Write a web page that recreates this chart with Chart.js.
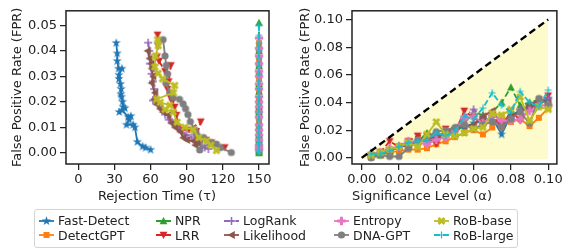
<!DOCTYPE html>
<html><head><meta charset="utf-8">
<script src="https://cdn.jsdelivr.net/npm/chart.js@4.4.0/dist/chart.umd.min.js"></script>
<style>
html,body{margin:0;padding:0;background:#fff;width:563px;height:249px;overflow:hidden;font-family:"DejaVu Sans",sans-serif;}
#c1{position:absolute;left:0;top:0;}
#c2{position:absolute;left:283px;top:0;}
.xt{position:absolute;top:188px;font-size:13px;color:#222;white-space:nowrap;transform:translateX(-50%);line-height:16px;}
#legend{position:absolute;left:34px;top:209px;width:484px;height:39px;border:1px solid #d4d4d4;border-radius:3px;box-sizing:border-box;}
.item{position:absolute;display:flex;align-items:center;font-size:12.5px;color:#222;white-space:nowrap;height:14px;}
.item canvas{margin-right:4px;}
</style></head>
<body>
<canvas id="c1" width="283" height="205"></canvas>
<canvas id="c2" width="282" height="205"></canvas>
<div class="xt" style="left:157px">Rejection Time (τ)</div>
<div class="xt" style="left:422px">Significance Level (α)</div>
<div id="legend"></div>
<script>
// ---------- DATA ----------
const seriesNames = ['Fast-Detect','DetectGPT','NPR','LRR','LogRank','Likelihood','Entropy','DNA-GPT','RoB-base','RoB-large'];

// Right panel: significance level vs FPR
const alphaLevels = [0.005,0.01,0.015,0.02,0.025,0.03,0.035,0.04,0.045,0.05,0.055,0.06,0.065,0.07,0.075,0.08,0.085,0.09,0.095,0.1];
const fprFastDetect = [0.001,0.003,0.005,0.008,0.010,0.011,0.013,0.016,0.018,0.021,0.022,0.025,0.027,0.029,0.017,0.031,0.034,0.036,0.039,0.043];
const fprDetectGPT  = [0.001,0.002,0.004,0.005,0.006,0.006,0.007,0.010,0.012,0.015,0.018,0.020,0.017,0.022,0.030,0.026,0.028,0.023,0.029,0.036];
const fprNPR        = [0.004,0.002,0.005,0.009,0.010,0.012,0.018,0.015,0.019,0.017,0.025,0.033,0.031,0.033,0.040,0.051,0.038,0.040,0.042,0.040];
const fprLRR        = [0.002,0.004,0.012,0.008,0.012,0.016,0.016,0.010,0.021,0.018,0.034,0.029,0.025,0.031,0.022,0.034,0.027,0.036,0.039,0.045];
const fprLogRank    = [0.002,0.003,0.006,0.007,0.010,0.012,0.012,0.016,0.017,0.020,0.030,0.035,0.030,0.027,0.024,0.028,0.035,0.037,0.041,0.043];
const fprLikelihood = [0.001,0.003,0.005,0.008,0.009,0.012,0.015,0.014,0.018,0.022,0.023,0.024,0.030,0.034,0.025,0.030,0.033,0.038,0.042,0.040];
const fprEntropy    = [0.002,0.004,0.007,0.008,0.012,0.011,0.010,0.013,0.015,0.020,0.028,0.030,0.025,0.031,0.027,0.027,0.028,0.034,0.038,0.038];
const fprDNAGPT     = [0.000,0.002,0.001,0.001,0.007,0.013,0.015,0.019,0.020,0.022,0.024,0.021,0.024,0.026,0.022,0.028,0.033,0.025,0.043,0.038];
const fprRoBBase    = [0.002,0.004,0.006,0.008,0.011,0.008,0.017,0.026,0.017,0.016,0.018,0.021,0.022,0.032,0.031,0.035,0.044,0.027,0.037,0.035];
const fprRoBLarge   = [0.003,0.003,0.005,0.008,0.011,0.012,0.013,0.018,0.016,0.019,0.030,0.028,0.036,0.047,0.038,0.033,0.048,0.040,0.037,0.049];
const diagonalX = [0, 0.1];
const diagonalY = [0, 0.1];

// Left panel: rejection time vs FPR
const timeFastDetect = [31.5,32.3,32.3,33.4,36.2,33.7,33.7,35.0,35.6,35.3,35.9,36.7,37.3,38.7,34.0,36.5,41.4,43.6,42.3,40.0,45.6,47.0,49.0,53.4,55.8,60.0];
const rtFprFastDetect = [0.0431,0.039,0.036,0.033,0.033,0.0305,0.029,0.027,0.025,0.023,0.022,0.020,0.018,0.0175,0.016,0.0167,0.014,0.0144,0.013,0.011,0.011,0.010,0.0043,0.0025,0.002,0.0012];
const timeDetectGPT = [150,150,150,150,150,150,150,150,150,150,150,150,150,150,150,150,150,150,150,150];
const rtFprDetectGPT = [0.043,0.040,0.037,0.034,0.031,0.029,0.026,0.024,0.021,0.019,0.017,0.015,0.013,0.011,0.009,0.007,0.005,0.003,0.001,0.0];
const timeNPR = [150,150,150,150,150,150,150,150,150,150,150,150,150,150,150,150,150,150,150,150];
const rtFprNPR = [0.051,0.042,0.040,0.036,0.034,0.031,0.027,0.024,0.021,0.018,0.016,0.012,0.010,0.007,0.005,0.003,0.002,0.001,0.0005,0.0];
const timeLRR = [65.8,66.0,65.4,67.0,72.0,76.8,75.0,74.0,76.0,78.0,80.0,81.5,82.6,86.0,92.0,101.7,98.0,106.0,110.5,121.5];
const rtFprLRR = [0.0463,0.042,0.0377,0.036,0.032,0.0343,0.028,0.025,0.022,0.020,0.018,0.0148,0.0097,0.009,0.009,0.0122,0.006,0.005,0.004,0.0021];
const timeLogRank = [58.0,59.0,59.4,60.8,62.0,63.0,62.0,66.0,70.0,72.0,75.0,78.0,82.8,86.0,90.0,94.0,98.0,102.0,105.0,108.0];
const rtFprLogRank = [0.0432,0.040,0.035,0.031,0.028,0.025,0.0205,0.019,0.017,0.015,0.013,0.012,0.0097,0.008,0.007,0.006,0.004,0.003,0.0021,0.0015];
const timeLikelihood = [57.5,59.0,60.5,60.8,62.0,60.8,63.5,62.6,65.0,67.7,70.0,74.6,77.4,80.0,84.3,87.0,90.0,95.3,99.0,97.0];
const rtFprLikelihood = [0.040,0.037,0.035,0.033,0.030,0.0274,0.0236,0.021,0.019,0.0173,0.016,0.0148,0.0116,0.010,0.0084,0.0059,0.005,0.0047,0.004,0.003];
const timeEntropy = [150,150,150,150,150,150,150,150,150,150,150,150,150,150,150,150,150,150,150,150];
const rtFprEntropy = [0.045,0.041,0.038,0.035,0.032,0.030,0.027,0.025,0.022,0.020,0.018,0.016,0.014,0.011,0.009,0.007,0.005,0.003,0.002,0.001];
const timeDNAGPT = [70.4,72.0,73.0,74.0,72.7,76.0,78.7,84.0,87.0,89.0,91.0,93.0,96.7,98.0,104.0,100.8,110.0,114.7,118.0,127.0];
const rtFprDNAGPT = [0.0444,0.038,0.0343,0.031,0.0274,0.0236,0.0217,0.021,0.0192,0.0173,0.015,0.0122,0.0091,0.0075,0.006,0.0011,0.004,0.0034,0.002,0.0001];
const timeRoBBase = [65.8,66.4,64.0,63.5,66.3,70.0,80.0,79.0,65.0,68.0,76.0,72.0,78.8,82.0,88.4,95.3,100.0,106.4,110.0,114.7];
const rtFprRoBBase = [0.0444,0.042,0.038,0.0337,0.0312,0.029,0.0264,0.0236,0.021,0.0198,0.0186,0.017,0.016,0.012,0.010,0.0091,0.006,0.0047,0.003,0.0009];
const timeRoBLarge = [150,150,150,150,150,150,150,150,150,150,150,150,150,150,150,150,150,150,150,150];
const rtFprRoBLarge = [0.050,0.046,0.043,0.040,0.037,0.034,0.031,0.028,0.025,0.022,0.019,0.016,0.013,0.010,0.008,0.006,0.004,0.003,0.001,0.0];

// Tick labels
const leftXTicks = [0,30,60,90,120,150];
const leftYTicks = [0,0.01,0.02,0.03,0.04,0.05];
const rightXTicks = [0,0.02,0.04,0.06,0.08,0.1];
const rightYTicks = [0,0.02,0.04,0.06,0.08,0.1];

// ---------- STYLE ----------
const colors = ['#1f77b4','#ff7f0e','#2ca02c','#d62728','#9467bd','#8c564b','#e377c2','#7f7f7f','#bcbd22','#17becf'];
const markers = ['star','square','triUp','triDown','plus','triLeft','plusFilled','circle','xFilled','plusThin'];
const dashes = [[],[],[6,3],[6,3],[6,2,1.5,2],[],[],[],[],[6,3]];
const TXT = '#222';
const FONT = "'DejaVu Sans', sans-serif";

function drawShape(ctx, type, cx, cy, color) {
  ctx.save();
  ctx.fillStyle = color; ctx.strokeStyle = color; ctx.setLineDash([]);
  ctx.beginPath();
  const poly = pts => { ctx.moveTo(cx+pts[0][0], cy+pts[0][1]); for (let i=1;i<pts.length;i++) ctx.lineTo(cx+pts[i][0], cy+pts[i][1]); ctx.closePath(); ctx.fill(); };
  if (type === 'star') {
    const pts = [];
    for (let i=0;i<10;i++){ const r = i%2===0?4.8:1.9; const a = -Math.PI/2 + i*Math.PI/5; pts.push([r*Math.cos(a), r*Math.sin(a)]); }
    poly(pts);
  } else if (type === 'square') { ctx.fillRect(cx-3,cy-3,6,6); }
  else if (type === 'triUp') poly([[0,-3.9],[3.9,3.3],[-3.9,3.3]]);
  else if (type === 'triDown') poly([[0,3.9],[3.9,-3.3],[-3.9,-3.3]]);
  else if (type === 'triLeft') poly([[-3.9,0],[3.3,-3.9],[3.3,3.9]]);
  else if (type === 'circle') { ctx.arc(cx,cy,3.6,0,Math.PI*2); ctx.fill(); }
  else if (type === 'plus' || type === 'plusThin') {
    const r = type==='plus'?4:3.5; ctx.lineWidth = type==='plus'?1.5:1.2;
    ctx.moveTo(cx-r,cy); ctx.lineTo(cx+r,cy); ctx.moveTo(cx,cy-r); ctx.lineTo(cx,cy+r); ctx.stroke();
  } else if (type === 'plusFilled' || type === 'xFilled') {
    const w=1.5, l=4.2; const base=[[-w,-l],[w,-l],[w,-w],[l,-w],[l,w],[w,w],[w,l],[-w,l],[-w,w],[-l,w],[-l,-w],[-w,-w]];
    const ang = type==='xFilled'?Math.PI/4:0;
    poly(base.map(([x,y])=>[x*Math.cos(ang)-y*Math.sin(ang), x*Math.sin(ang)+y*Math.cos(ang)]));
  }
  ctx.restore();
}
function makeMarker(type, color) {
  const c = document.createElement('canvas'); c.width = 12; c.height = 12;
  drawShape(c.getContext('2d'), type, 6, 6, color);
  return c;
}
const markerImgs = markers.map((m,i)=>makeMarker(m, colors[i]));

const framePlugin = { id:'frame', afterDraw(chart){ const {ctx, chartArea:a} = chart; ctx.save(); ctx.strokeStyle = TXT; ctx.lineWidth = 1.5; ctx.strokeRect(a.left, a.top, a.right-a.left, a.bottom-a.top); ctx.restore(); } };

function toPts(xs, ys){ return xs.map((x,i)=>({x, y: ys[i]})); }
function seriesDS(i, xs, ys){
  return { label: seriesNames[i], data: toPts(xs, ys), showLine: true, borderColor: colors[i], backgroundColor: colors[i],
    borderWidth: 1.8, borderDash: dashes[i], pointStyle: markerImgs[i], pointRadius: 4, order: 10 - i, clip: false };
}
function axis(ticks, min, max, fmt, isY, fit, titleText, titlePad){
  const o = {
    type: 'linear', min, max,
    afterBuildTicks: s => { s.ticks = ticks.map(v=>({value:v})); },
    ticks: { callback: fmt, font: {family: FONT, size: 13}, color: TXT, padding: isY?3:2, maxRotation: 0, autoSkip: false },
    grid: { drawOnChartArea: false, drawTicks: true, tickLength: 6, color: TXT, lineWidth: 1.25 },
    border: { display: false },
    afterFit: s => { if (isY) s.width = fit; else s.height = fit; }
  };
  if (titleText) o.title = { display: true, text: titleText, font: {family: FONT, size: 13}, color: TXT, padding: {top: titlePad, bottom: 0} };
  return o;
}
const f2 = v => Number(v).toFixed(2);

const leftSets = [
  [timeFastDetect, rtFprFastDetect],[timeDetectGPT, rtFprDetectGPT],[timeNPR, rtFprNPR],[timeLRR, rtFprLRR],[timeLogRank, rtFprLogRank],
  [timeLikelihood, rtFprLikelihood],[timeEntropy, rtFprEntropy],[timeDNAGPT, rtFprDNAGPT],[timeRoBBase, rtFprRoBBase],[timeRoBLarge, rtFprRoBLarge]];
new Chart(document.getElementById('c1'), {
  type: 'scatter',
  data: { datasets: leftSets.map((s,i)=>seriesDS(i, s[0], s[1])) },
  options: {
    responsive: false, animation: false, devicePixelRatio: 1,
    layout: { padding: {top: 5, right: 14, left: 0, bottom: 0} },
    plugins: { legend: {display: false}, tooltip: {enabled: false} },
    scales: {
      x: axis(leftXTicks, -10.2, 158.3, v=>String(v), false, 41),
      y: axis(leftYTicks, -0.0044, 0.0557, f2, true, 66, 'False Positive Rate (FPR)', 9.7)
    }
  },
  plugins: [framePlugin]
});

const rightSeries = [fprFastDetect,fprDetectGPT,fprNPR,fprLRR,fprLogRank,fprLikelihood,fprEntropy,fprDNAGPT,fprRoBBase,fprRoBLarge];
const rightDS = rightSeries.map((ys,i)=>seriesDS(i, alphaLevels, ys));
rightDS.push({ label: 'diag', data: toPts(diagonalX, diagonalY), showLine: true, borderColor: '#000', borderWidth: 2.4, borderDash: [7,4], pointRadius: 0, order: 0 });
rightDS.push({ label: 'region', data: toPts(diagonalX, diagonalY), showLine: true, borderWidth: 0, borderColor: 'rgba(0,0,0,0)', backgroundColor: '#fdfbcc', fill: {value: -0.0008}, pointRadius: 0, order: 100 });
new Chart(document.getElementById('c2'), {
  type: 'scatter',
  data: { datasets: rightDS },
  options: {
    responsive: false, animation: false, devicePixelRatio: 1,
    layout: { padding: {top: 5, right: 8, left: 0, bottom: 0} },
    plugins: { legend: {display: false}, tooltip: {enabled: false}, filler: {propagate: false} },
    scales: {
      x: axis(rightXTicks, -0.0052, 0.10466, f2, false, 41),
      y: axis(rightYTicks, -0.0044, 0.10626, f2, true, 69, 'False Positive Rate (FPR)', 14.7)
    }
  },
  plugins: [framePlugin]
});

// ---------- LEGEND ----------
const legend = document.getElementById('legend');
const colX = [4, 121, 189, 299, 399];
const rowY = [3.7, 18];
seriesNames.forEach((name, i) => {
  const col = Math.floor(i/2), row = i%2;
  const d = document.createElement('div'); d.className = 'item';
  d.style.left = colX[col] + 'px'; d.style.top = rowY[row] + 'px';
  const c = document.createElement('canvas'); c.width = 15; c.height = 12;
  const ctx = c.getContext('2d');
  ctx.strokeStyle = colors[i]; ctx.lineWidth = 1.8; ctx.setLineDash(dashes[i]);
  ctx.beginPath(); ctx.moveTo(0,6); ctx.lineTo(15,6); ctx.stroke();
  drawShape(ctx, markers[i], 7.5, 6, colors[i]);
  const t = document.createElement('span'); t.textContent = name;
  d.appendChild(c); d.appendChild(t); legend.appendChild(d);
});
</script>
</body></html>
